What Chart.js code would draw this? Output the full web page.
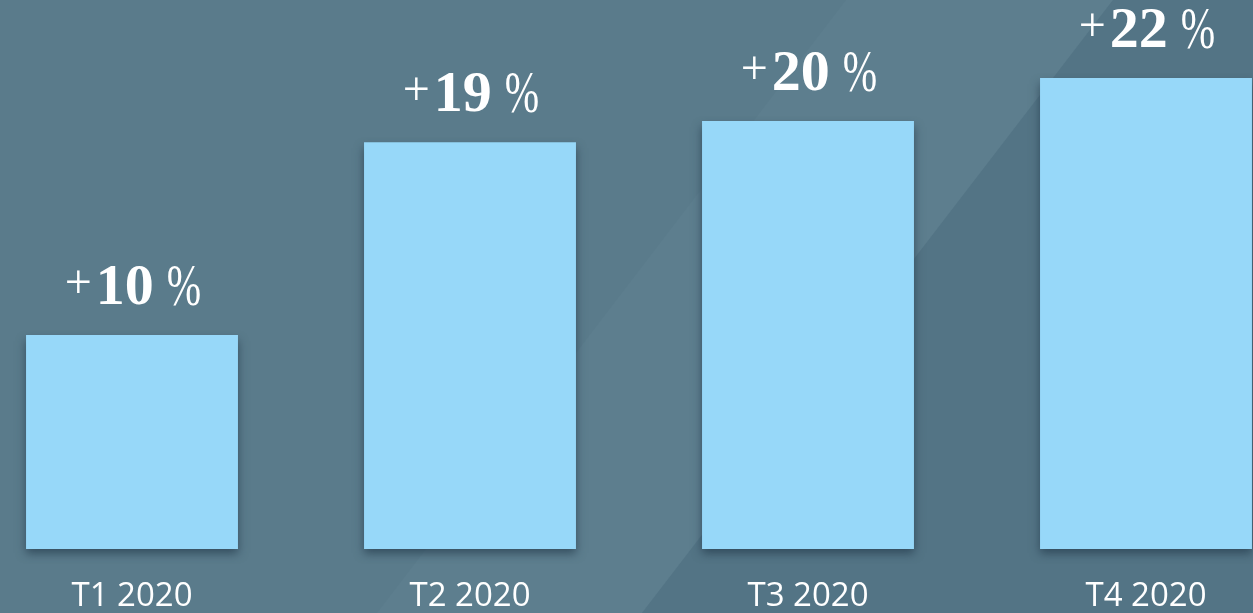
<!DOCTYPE html>
<html>
<head>
<meta charset="utf-8">
<script src="https://cdn.jsdelivr.net/npm/chart.js@4"></script>
<style>
  html, body { margin: 0; padding: 0; width: 1253px; height: 613px; overflow: hidden; background: #5a7b8b; }
  #wrap { position: absolute; left: -37px; top: 0; width: 1352px; height: 613px; }
</style>
</head>
<body>
<div id="wrap"><canvas id="growthChart"></canvas></div>
<script>
const categories = ["T1 2020", "T2 2020", "T3 2020", "T4 2020"];
const growth = [10, 19, 20, 22];
const yMin = -1.42;
const yMax = 25.65;

const shiftX = 37; // canvas starts 37px left of the page

// flat background with two diagonal bands
const backdrop = {
  id: "backdrop",
  beforeDraw(chart) {
    const { ctx, width, height } = chart;
    ctx.save();
    ctx.fillStyle = "#5a7b8b";
    ctx.fillRect(0, 0, width, height);
    ctx.fillStyle = "#5d7e8e";
    ctx.beginPath();
    ctx.moveTo(377 + shiftX, height);
    ctx.lineTo(846 + shiftX, 0);
    ctx.lineTo(1113 + shiftX, 0);
    ctx.lineTo(642 + shiftX, height);
    ctx.closePath();
    ctx.fill();
    ctx.fillStyle = "#537485";
    ctx.beginPath();
    ctx.moveTo(642 + shiftX, height);
    ctx.lineTo(1113 + shiftX, 0);
    ctx.lineTo(width, 0);
    ctx.lineTo(width, height);
    ctx.closePath();
    ctx.fill();
    ctx.restore();
  },
};

const barShadow = {
  id: "barShadow",
  beforeDatasetsDraw(chart) {
    const ctx = chart.ctx;
    ctx.save();
    ctx.shadowColor = "rgba(35, 58, 76, 0.7)";
    ctx.shadowBlur = 9;
    ctx.shadowOffsetY = 5;
  },
  afterDatasetsDraw(chart) {
    chart.ctx.restore();
  },
};

function drawPart(ctx, text, font, x, y, sx) {
  ctx.save();
  ctx.font = font;
  ctx.translate(x, y);
  ctx.scale(sx, 1);
  ctx.fillText(text, 0, 0);
  ctx.restore();
}

function partWidth(ctx, text, font, sx) {
  ctx.font = font;
  return ctx.measureText(text).width * sx;
}

const valueLabels = {
  id: "valueLabels",
  afterDatasetsDraw(chart) {
    const ctx = chart.ctx;
    const meta = chart.getDatasetMeta(0);
    const plusFont = '48px "Liberation Serif"';
    const numFont = 'bold 58px "Liberation Serif"';
    const pctFont = '59px "Liberation Serif"';
    ctx.save();
    ctx.fillStyle = "#ffffff";
    ctx.textAlign = "left";
    ctx.textBaseline = "alphabetic";
    meta.data.forEach((bar, i) => {
      const num = String(growth[i]);
      const wPlus = partWidth(ctx, "+", plusFont, 1);
      const wNum = partWidth(ctx, num, numFont, 1);
      const wPct = partWidth(ctx, "%", pctFont, 0.7);
      const g1 = 4, g2 = 13;
      const total = wPlus + g1 + wNum + g2 + wPct;
      let x = bar.x + 1 - total / 2;
      const base = bar.y - 31;
      drawPart(ctx, "+", plusFont, x, base - 6, 1);
      x += wPlus + g1;
      drawPart(ctx, num, numFont, x, base, 1);
      x += wNum + g2;
      drawPart(ctx, "%", pctFont, x, base + 1, 0.7);
    });
    ctx.restore();
  },
};

new Chart(document.getElementById("growthChart"), {
  type: "bar",
  data: {
    labels: categories,
    datasets: [
      {
        data: growth,
        backgroundColor: "#97d8f9",
        borderWidth: 0,
        categoryPercentage: 1,
        barPercentage: 0.627,
      },
    ],
  },
  options: {
    responsive: true,
    maintainAspectRatio: false,
    animation: false,
    layout: { padding: 0 },
    plugins: {
      legend: { display: false },
      tooltip: { enabled: false },
    },
    scales: {
      y: {
        display: false,
        min: yMin,
        max: yMax,
      },
      x: {
        grid: { display: false, drawTicks: false },
        border: { display: false },
        ticks: {
          color: "#ffffff",
          padding: -3,
          font: { family: '"Open Sans"', size: 33 },
        },
      },
    },
  },
  plugins: [backdrop, barShadow, valueLabels],
});
</script>
</body>
</html>
